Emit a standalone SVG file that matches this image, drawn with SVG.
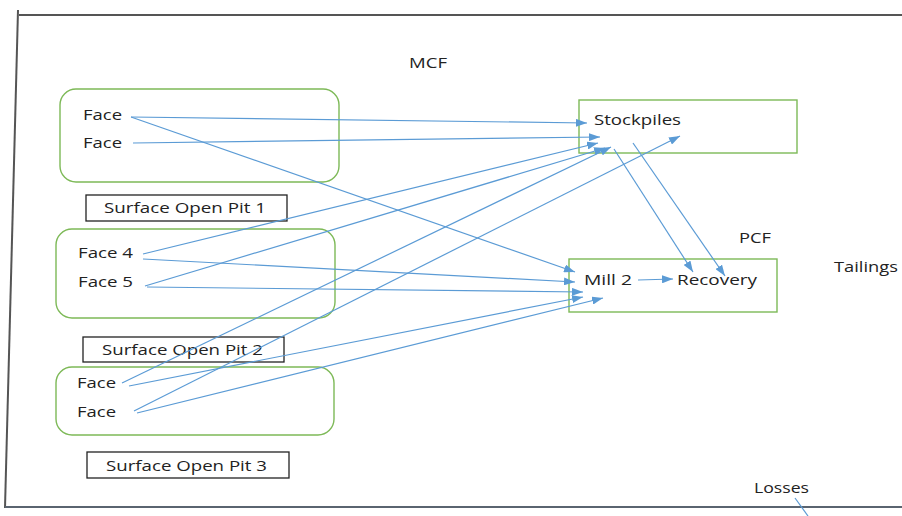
<svg xmlns="http://www.w3.org/2000/svg" width="902" height="516" viewBox="0 0 902 516">
<defs>
<style>
text{font-family:"Open Sans","Liberation Sans",sans-serif;font-size:15px;fill:#222}
.pit{fill:none;stroke:#7DB957;stroke-width:1.4}
.box{fill:none;stroke:#7DB957;stroke-width:1.4}
.lbl{fill:#fff;stroke:#222;stroke-width:1.3}
.c{fill:none;stroke:#5B9BD5;stroke-width:1.2}
.a{marker-end:url(#ah)}
.frame{fill:none;stroke:#555;stroke-width:2}
</style>
<marker id="ah" markerUnits="userSpaceOnUse" markerWidth="11" markerHeight="8" refX="11" refY="4" orient="auto">
<path d="M0,0 L11,4 L0,8 z" fill="#5B9BD5"/>
</marker>
</defs>
<rect width="902" height="516" fill="#fff"/>
<g id="frame">
<line class="frame" x1="19" y1="15" x2="902" y2="15" stroke-width="1.6"/>
<line class="frame" x1="18" y1="10" x2="5" y2="508"/>
<line class="frame" x1="5" y1="507" x2="902" y2="507" style="stroke:#5a6470"/>
</g>
<text x="409" y="68" textLength="38" lengthAdjust="spacingAndGlyphs">MCF</text>
<text x="739" y="243" textLength="32" lengthAdjust="spacingAndGlyphs">PCF</text>
<text x="834" y="272" textLength="64" lengthAdjust="spacingAndGlyphs">Tailings</text>
<text x="754" y="493" textLength="55" lengthAdjust="spacingAndGlyphs">Losses</text>
<g id="pit1">
<rect class="pit" x="60" y="89" width="279" height="93" rx="16"/>
<text x="83" y="120" textLength="39" lengthAdjust="spacingAndGlyphs">Face</text>
<text x="83" y="148" textLength="39" lengthAdjust="spacingAndGlyphs">Face</text>
</g>
<g id="pit1-label">
<rect class="lbl" x="86" y="195" width="201" height="26"/>
<text x="104" y="213" textLength="162" lengthAdjust="spacingAndGlyphs">Surface Open Pit 1</text>
</g>
<g id="pit2">
<rect class="pit" x="56" y="229" width="279" height="89" rx="16"/>
<text x="78" y="258" textLength="55" lengthAdjust="spacingAndGlyphs">Face 4</text>
<text x="78" y="287" textLength="55" lengthAdjust="spacingAndGlyphs">Face 5</text>
</g>
<g id="pit2-label">
<rect class="lbl" x="83" y="337" width="201" height="25"/>
<text x="102" y="355" textLength="161" lengthAdjust="spacingAndGlyphs">Surface Open Pit 2</text>
</g>
<g id="pit3">
<rect class="pit" x="56" y="367" width="278" height="68" rx="16"/>
<text x="77" y="388" textLength="39" lengthAdjust="spacingAndGlyphs">Face</text>
<text x="77" y="417" textLength="39" lengthAdjust="spacingAndGlyphs">Face</text>
</g>
<g id="pit3-label">
<rect class="lbl" x="87" y="452" width="202" height="26"/>
<text x="106" y="471" textLength="161" lengthAdjust="spacingAndGlyphs">Surface Open Pit 3</text>
</g>
<g id="stockpiles">
<rect class="box" x="579" y="100" width="218" height="53"/>
<text x="594" y="125" textLength="87" lengthAdjust="spacingAndGlyphs">Stockpiles</text>
</g>
<g id="mill">
<rect class="box" x="569" y="259" width="208" height="53"/>
<text x="584" y="285" textLength="48" lengthAdjust="spacingAndGlyphs">Mill 2</text>
<text x="677" y="285" textLength="80" lengthAdjust="spacingAndGlyphs">Recovery</text>
</g>
<g id="connectors">
<line class="c a" x1="131" y1="117" x2="587" y2="123"/>
<line class="c a" x1="131" y1="117" x2="575" y2="272"/>
<line class="c a" x1="133" y1="143" x2="600" y2="137"/>
<line class="c a" x1="143" y1="254" x2="598" y2="143"/>
<line class="c a" x1="143" y1="259" x2="575" y2="282"/>
<line class="c a" x1="145" y1="286" x2="605" y2="148"/>
<line class="c a" x1="147" y1="287" x2="583" y2="292"/>
<line class="c a" x1="122" y1="383" x2="611" y2="147"/>
<line class="c a" x1="129" y1="386" x2="583" y2="297"/>
<line class="c a" x1="134" y1="411" x2="680" y2="136"/>
<line class="c a" x1="137" y1="413" x2="603" y2="298"/>
<line class="c a" x1="614" y1="149" x2="693" y2="272"/>
<line class="c a" x1="633" y1="143" x2="725" y2="276"/>
<line class="c a" x1="638" y1="280" x2="673" y2="279"/>
<line class="c" x1="795" y1="498" x2="808" y2="516"/>
</g>
</svg>
